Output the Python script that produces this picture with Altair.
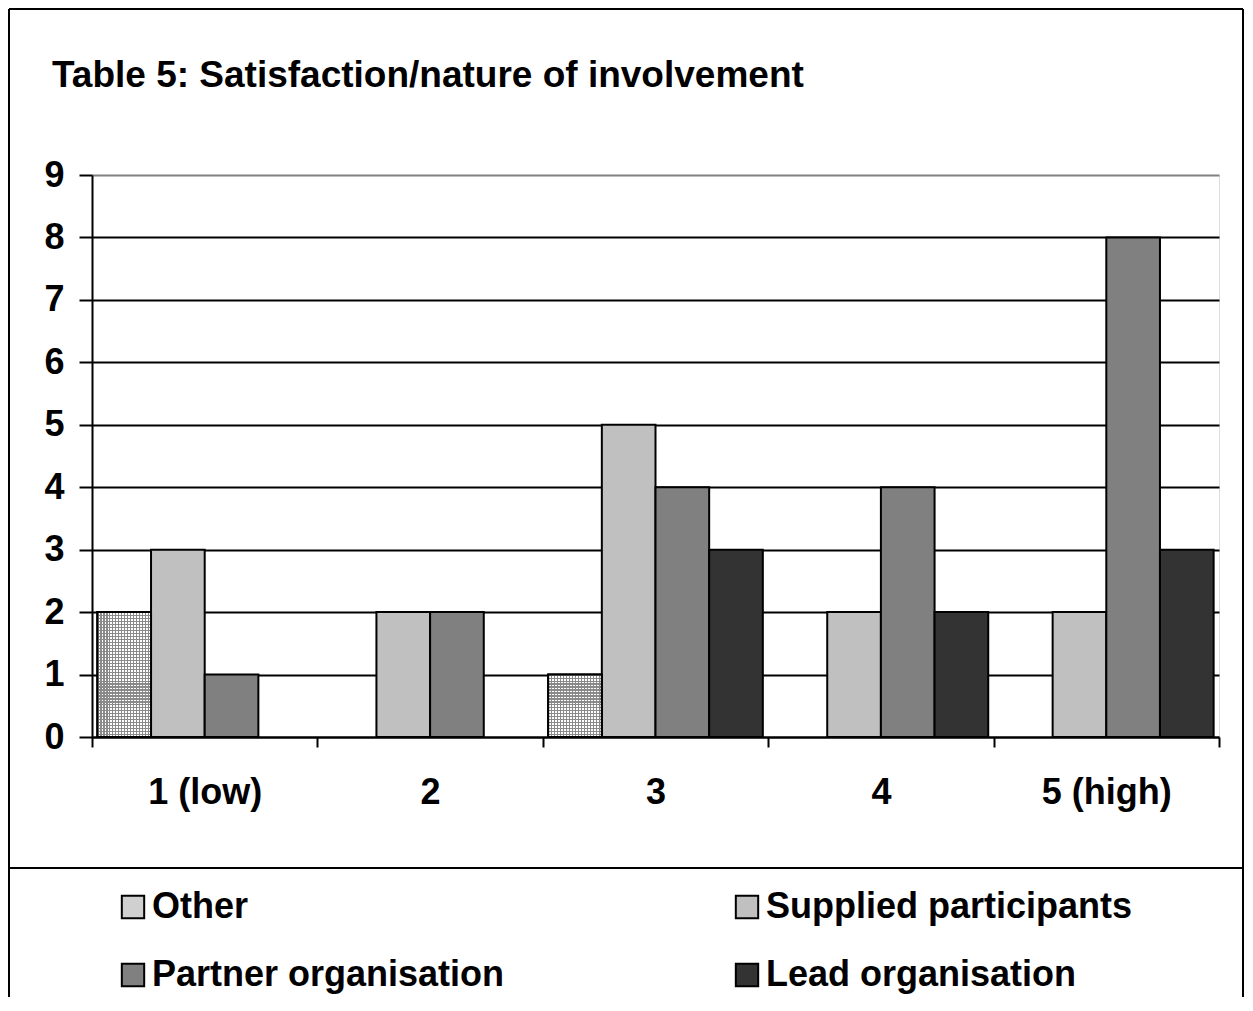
import altair as alt
import pandas as pd

categories = ["1 (low)", "2", "3", "4", "5 (high)"]
series = ["Other", "Supplied participants", "Partner organisation", "Lead organisation"]
other = [2, 0, 1, 0, 0]
supplied = [3, 2, 5, 2, 2]
partner = [1, 2, 4, 4, 8]
lead = [0, 0, 3, 2, 3]
y_ticks = list(range(10))
title_text = "Table 5: Satisfaction/nature of involvement"

rows = []
for s, vals in zip(series, [other, supplied, partner, lead]):
    for c, v in zip(categories, vals):
        rows.append({"cat": c, "series": s, "value": v})
df = pd.DataFrame(rows)

colors = ["#d0d0d0", "#c0c0c0", "#808080", "#333333"]

W, H = 1127, 562
FONT = "Liberation Sans"
FS = 36
GREY = "#8a8a8a"

x_enc = alt.X(
    "cat:N", sort=categories, title=None,
    scale=alt.Scale(paddingInner=0, paddingOuter=0),
    axis=alt.Axis(labelAngle=0, tickBand="extent", tickSize=10, tickWidth=2,
                  tickColor="black", domainColor="black", domainWidth=2,
                  labelPadding=28, grid=False,
                  labelFont=FONT, labelFontSize=FS, labelFontWeight="bold", labelColor="black"),
)
xo_enc = alt.XOffset("series:N", sort=series,
                     scale=alt.Scale(paddingInner=0, paddingOuter=0.1))
y_enc = alt.Y(
    "value:Q", title=None,
    scale=alt.Scale(domain=[0, 9], nice=False),
    axis=alt.Axis(values=y_ticks, tickSize=13, tickWidth=2, tickColor="black",
                  domainColor="black", domainWidth=2, labelPadding=15,
                  grid=True, gridWidth=2,
                  gridColor=alt.condition("datum.value == 9", alt.value("#808080"), alt.value("black")),
                  labelFont=FONT, labelFontSize=FS, labelFontWeight="bold", labelColor="black"),
)

bars = alt.Chart(df).transform_filter("datum.value > 0").mark_bar(
    stroke="black", strokeWidth=2
).encode(
    x=x_enc, xOffset=xo_enc, y=y_enc,
    color=alt.Color("series:N", sort=series, scale=alt.Scale(domain=series, range=colors),
                    legend=alt.Legend(title=None, orient="none", legendX=23, legendY=714,
                                      direction="horizontal",
                                      columns=2, columnPadding=224, rowPadding=32,
                                      symbolType="square", symbolSize=500,
                                      symbolStrokeColor="black", symbolStrokeWidth=2,
                                      labelOffset=1, labelFont=FONT, labelFontSize=FS,
                                      labelFontWeight="bold", labelColor="black",
                                      labelLimit=600, padding=0)),
)


def stripes(n, along_x, base):
    stops = []
    for i in range(n):
        a = i / n
        b = (i + 0.4) / n
        c = (i + 1) / n
        stops += [
            {"offset": a, "color": GREY},
            {"offset": b, "color": GREY},
            {"offset": b, "color": base},
            {"offset": c, "color": base},
        ]
    if along_x:
        return alt.LinearGradient(gradient="linear", stops=stops, x1=0, x2=1, y1=0, y2=0)
    return alt.LinearGradient(gradient="linear", stops=stops, x1=0, x2=0, y1=0, y2=1)


layers = [bars]
unit = H / 9
bar_w = W / 5 / 4.2
for v in sorted(set(other) - {0}):
    nh = int(round(v * unit / 3))
    layers.append(
        alt.Chart(df).transform_filter(
            f"datum.series == 'Other' && datum.value == {v}"
        ).mark_bar(fill=stripes(nh, False, "#ffffff"), strokeWidth=0).encode(
            x=x_enc, xOffset=xo_enc, y=y_enc)
    )
nv = int(round(bar_w / 3))
layers.append(
    alt.Chart(df).transform_filter("datum.series == 'Other' && datum.value > 0").mark_bar(
        fill=stripes(nv, True, "rgba(255,255,255,0)"), stroke="black", strokeWidth=2
    ).encode(x=x_enc, xOffset=xo_enc, y=y_enc)
)

frame_df = pd.DataFrame({"k": [0]})
frame = alt.Chart(frame_df)
RIGHT = 1151
layers += [
    frame.mark_rule(color="black", strokeWidth=2).encode(x=alt.value(-83), y=alt.value(-166), y2=alt.value(H + 300)),
    frame.mark_rule(color="black", strokeWidth=2).encode(x=alt.value(RIGHT), y=alt.value(-166), y2=alt.value(H + 300)),
    frame.mark_rule(color="black", strokeWidth=2).encode(x=alt.value(-83), x2=alt.value(RIGHT), y=alt.value(-166)),
    frame.mark_rule(color="black", strokeWidth=2).encode(x=alt.value(-83), x2=alt.value(RIGHT), y=alt.value(693)),
]

chart = alt.layer(*layers).properties(
    width=W, height=H,
    title=alt.TitleParams(title_text, anchor="start", frame="group", font=FONT, fontSize=37,
                          fontWeight="bold", color="black", dx=-40, dy=116, offset=0,
                          baseline="alphabetic"),
    autosize=alt.AutoSizeParams(type="none"),
    padding={"left": 84, "top": 167, "right": 26, "bottom": 260},
).configure_view(
    stroke="#808080", strokeWidth=2
).configure(background="white")

chart.save("out.html", embed_options={"renderer": "svg", "actions": False})
